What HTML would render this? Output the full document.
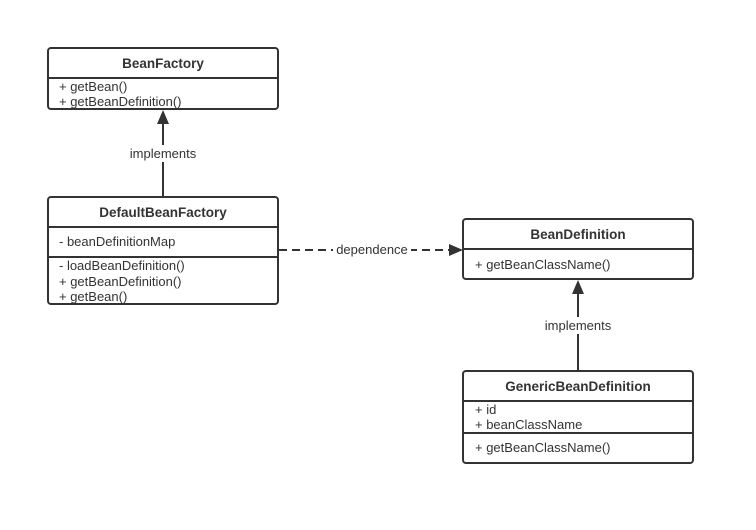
<!DOCTYPE html>
<html><head><meta charset="utf-8"><style>html,body{margin:0;padding:0;background:#fff}</style></head><body>
<svg width="756" height="525" xmlns="http://www.w3.org/2000/svg" font-family="Liberation Sans, sans-serif" font-size="13" fill="#333">
<g stroke="#333" stroke-width="2" fill="#fff">
<rect x="48" y="48" width="230" height="61" rx="3"/>
<line x1="48" y1="78" x2="278" y2="78"/>
<rect x="48" y="197" width="230" height="107" rx="3"/>
<line x1="48" y1="227" x2="278" y2="227"/>
<line x1="48" y1="257" x2="278" y2="257"/>
<rect x="463" y="219" width="230" height="60" rx="3"/>
<line x1="463" y1="249" x2="693" y2="249"/>
<rect x="463" y="371" width="230" height="92" rx="3"/>
<line x1="463" y1="401" x2="693" y2="401"/>
<line x1="463" y1="433" x2="693" y2="433"/>
<line x1="163" y1="197" x2="163" y2="122"/>
<line x1="578" y1="371" x2="578" y2="292"/>
<line x1="279" y1="250" x2="450" y2="250" stroke-dasharray="8,5"/>
</g>
<g fill="#333">
<polygon points="163,110 157,124 169,124"/>
<polygon points="578,280 572,294 584,294"/>
<polygon points="463,250 449,244 449,256"/>
</g>
<g fill="#fff"><rect x="124" y="145" width="78" height="17"/><rect x="540" y="317" width="76" height="17"/><rect x="333" y="242" width="78" height="16"/></g>
<g text-anchor="middle" font-weight="bold" font-size="13.5">
<text x="163" y="68">BeanFactory</text>
<text x="163" y="217">DefaultBeanFactory</text>
<text x="578" y="239">BeanDefinition</text>
<text x="578" y="391">GenericBeanDefinition</text>
</g>
<g text-anchor="middle">
<text x="163" y="158">implements</text>
<text x="578" y="330">implements</text>
<text x="372" y="254">dependence</text>
</g>
<text x="59" y="91">+ getBean()</text>
<text x="59" y="106">+ getBeanDefinition()</text>
<text x="59" y="246">- beanDefinitionMap</text>
<text x="59" y="270">- loadBeanDefinition()</text>
<text x="59" y="286">+ getBeanDefinition()</text>
<text x="59" y="301">+ getBean()</text>
<text x="475" y="269">+ getBeanClassName()</text>
<text x="475" y="414">+ id</text>
<text x="475" y="429">+ beanClassName</text>
<text x="475" y="452">+ getBeanClassName()</text>
</svg>
</body></html>
